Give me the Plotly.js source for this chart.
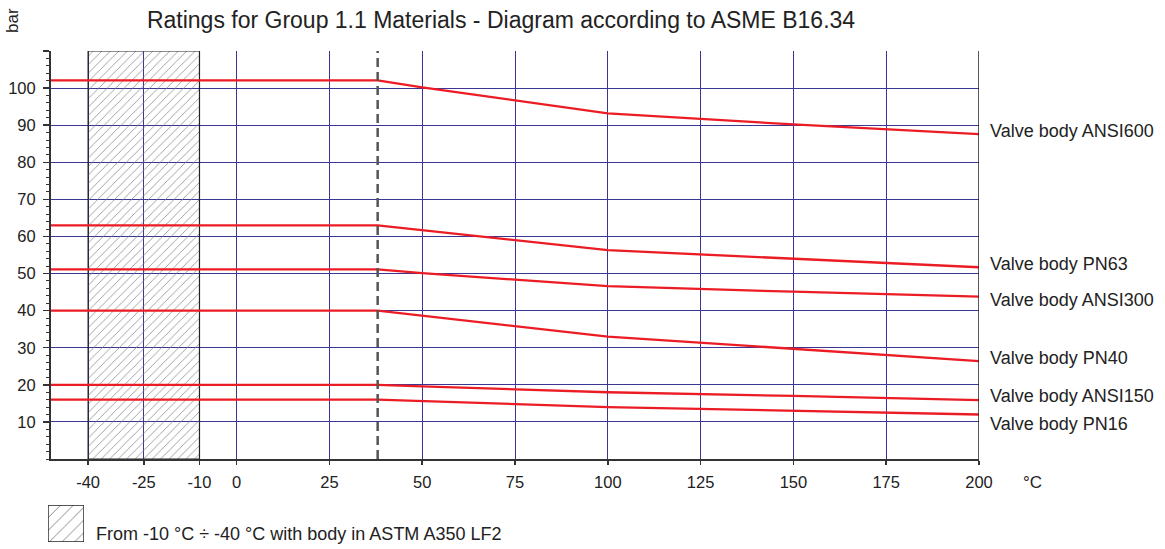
<!DOCTYPE html>
<html>
<head>
<meta charset="utf-8">
<script src="https://cdn.plot.ly/plotly-3.0.1.min.js"></script>
<style>html,body{margin:0;padding:0;background:#fff;}#chart{width:1165px;height:549px;}</style>
</head>
<body>
<div id="chart"></div>
<script>
// ---- data ----
const seriesNames = ["Valve body ANSI600", "Valve body PN63", "Valve body ANSI300", "Valve body PN40", "Valve body ANSI150", "Valve body PN16"];
const tempANSI600 = [-50, 38, 50, 100, 150, 200];
const barANSI600  = [102.1, 102.1, 100.2, 93.2, 90.2, 87.6];
const tempPN63 = [-50, 38, 100, 150, 200];
const barPN63  = [63, 63, 56.3, 53.9, 51.7];
const tempANSI300 = [-50, 38, 50, 100, 150, 200];
const barANSI300  = [51.1, 51.1, 50.1, 46.6, 45.1, 43.8];
const tempPN40 = [-50, 38, 100, 150, 200];
const barPN40  = [40, 40, 33.0, 29.7, 26.4];
const tempANSI150 = [-50, 38, 50, 100, 150, 200];
const barANSI150  = [20, 20, 19.6, 18.0, 17.0, 15.9];
const tempPN16 = [-50, 38, 100, 150, 200];
const barPN16  = [16, 16, 14.0, 13.0, 12.0];

const xTickVals = [-40, -25, -10, 0, 25, 50, 75, 100, 125, 150, 175, 200];
const xTickText = ["-40", "-25", "-10", "0", "25", "50", "75", "100", "125", "150", "175", "200"];
const yTickVals = [10, 20, 30, 40, 50, 60, 70, 80, 90, 100, 110];
const yTickText = ["10", "20", "30", "40", "50", "60", "70", "80", "90", "100", ""];

const lowTempRange = [-40, -10];   // hatched zone, °C
const refTemp = 38;                // dashed line, °C
const yMax = 110;

const titleText = "Ratings for Group 1.1 Materials - Diagram according to ASME B16.34";
const hatchNote = "From -10 °C ÷ -40 °C with body in ASTM A350 LF2";

// ---- build ----
const W = 1165, H = 549;
const L = 51, R = 979, T = 51, B = 459;
const FONT = "Liberation Sans, Arial, sans-serif";
const TXT = "#222";
const RED = "#ec1c24";
const GRID = "#3b3595";

const temps = [tempANSI600, tempPN63, tempANSI300, tempPN40, tempANSI150, tempPN16];
const vals  = [barANSI600, barPN63, barANSI300, barPN40, barANSI150, barPN16];
const labelShift = [3, 3, -3.5, 3, 4.5, -10];

const hatchPattern = {shape: "/", fgcolor: "#808080", bgcolor: "rgba(0,0,0,0)", size: 6, solidity: 0.12};

const traces = [];
traces.push({
  type: "bar", x: [(lowTempRange[0] + lowTempRange[1]) / 2], y: [yMax], base: 0,
  width: [lowTempRange[1] - lowTempRange[0]],
  marker: {color: "rgba(0,0,0,0)", line: {color: "#222", width: 1.2}, pattern: hatchPattern},
  hoverinfo: "skip", showlegend: false, xaxis: "x", yaxis: "y"
});
for (let i = 0; i < seriesNames.length; i++) {
  traces.push({
    type: "scatter", mode: "lines", name: seriesNames[i], x: temps[i], y: vals[i],
    line: {color: RED, width: 2.3}, showlegend: false, xaxis: "x", yaxis: "y"
  });
}
// legend swatch
traces.push({
  type: "bar", x: [0], y: [1], base: 0, width: [1],
  marker: {color: "rgba(0,0,0,0)", line: {color: "#222", width: 1.4},
           pattern: {shape: "/", fgcolor: "#808080", bgcolor: "rgba(0,0,0,0)", size: 9, solidity: 0.1}},
  hoverinfo: "skip", showlegend: false, xaxis: "x2", yaxis: "y2"
});

const annotations = [];
for (let i = 0; i < seriesNames.length; i++) {
  const v = vals[i];
  annotations.push({
    xref: "paper", yref: "y", x: 988 / W, y: v[v.length - 1], yshift: labelShift[i],
    xanchor: "left", yanchor: "middle", showarrow: false, text: seriesNames[i],
    font: {family: FONT, size: 18, color: TXT}
  });
}
annotations.push({xref: "paper", yref: "paper", x: 1032 / W, y: 1 - 482 / H, xanchor: "center", yanchor: "middle",
  showarrow: false, text: "°C", font: {family: FONT, size: 17, color: TXT}});
annotations.push({xref: "paper", yref: "paper", x: 12 / W, y: 1 - 21 / H, xanchor: "center", yanchor: "middle",
  showarrow: false, text: "bar", textangle: -90, font: {family: FONT, size: 17, color: TXT}});
annotations.push({xref: "paper", yref: "paper", x: 94 / W, y: 1 - 534 / H, xanchor: "left", yanchor: "middle",
  showarrow: false, text: hatchNote, font: {family: FONT, size: 18, color: TXT}});

const layout = {
  width: W, height: H,
  margin: {l: 0, r: 0, t: 0, b: 0, pad: 0},
  paper_bgcolor: "#fff", plot_bgcolor: "rgba(0,0,0,0)",
  showlegend: false,
  title: {text: titleText, x: 501 / W, xanchor: "center", y: 1 - 20 / H, yanchor: "middle",
          font: {family: FONT, size: 23, color: TXT}},
  xaxis: {
    domain: [L / W, R / W], range: [-50, 200], automargin: false,
    tickmode: "array", tickvals: xTickVals, ticktext: xTickText,
    showgrid: true, gridcolor: GRID, gridwidth: 1, zeroline: false,
    showline: true, linecolor: "#333", linewidth: 2,
    ticks: "outside", ticklen: 4, tickwidth: 1.5, tickcolor: "#333",
    ticklabelstandoff: 3,
    tickfont: {family: FONT, size: 16.5, color: TXT}, fixedrange: true
  },
  yaxis: {
    domain: [1 - B / H, 1 - T / H], range: [0, yMax], automargin: false,
    tickmode: "array", tickvals: yTickVals, ticktext: yTickText,
    showgrid: true, gridcolor: GRID, gridwidth: 1, zeroline: false,
    showline: true, linecolor: "#333", linewidth: 2,
    ticks: "outside", ticklen: 6, tickwidth: 1.5, tickcolor: "#333",
    ticklabelstandoff: 4,
    minor: {dtick: 2, tick0: 0, ticks: "outside", ticklen: 3, tickwidth: 1, tickcolor: "#333", showgrid: false},
    tickfont: {family: FONT, size: 16.5, color: TXT}, fixedrange: true
  },
  xaxis2: {domain: [48 / W, 84 / W], range: [-0.5, 0.5], visible: false, anchor: "y2", fixedrange: true},
  yaxis2: {domain: [1 - 542 / H, 1 - 505 / H], range: [0, 1], visible: false, anchor: "x2", fixedrange: true},
  shapes: [
    {type: "line", xref: "x", yref: "y", x0: refTemp, x1: refTemp, y0: 0, y1: yMax,
     line: {color: "#555", width: 2.5, dash: "9px,5px"}},
    {type: "line", xref: "x", yref: "y", x0: 200, x1: 200, y0: 0, y1: yMax,
     line: {color: "#222", width: 1.5}}
  ],
  annotations: annotations
};

Plotly.newPlot("chart", traces, layout, {staticPlot: true, displayModeBar: false});
</script>
</body>
</html>
